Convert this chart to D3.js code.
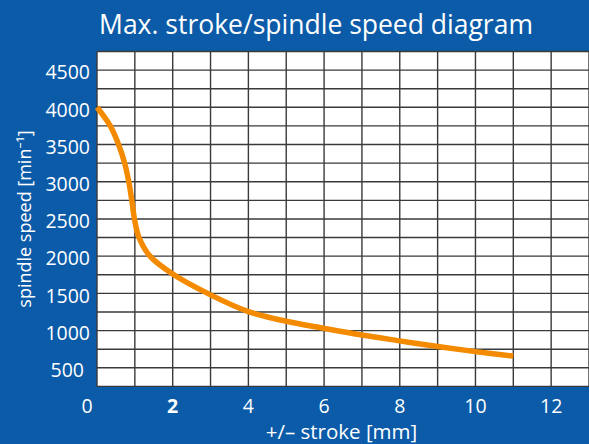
<!DOCTYPE html>
<html><head><meta charset="utf-8">
<script src="https://cdn.jsdelivr.net/npm/d3@7"></script>
<style>
html,body{margin:0;padding:0;background:#0B5BA8;}
svg{display:block;}
text{font-family:"Open Sans","Noto Sans",sans-serif;fill:#fff;}
</style></head>
<body>
<script>
const strokeMm = [0, 0.35, 0.57, 0.73, 0.84, 0.92, 0.99, 1.11, 1.4, 2.0, 3, 4, 5, 6, 7, 8, 9, 10, 11];
const speedMin = [4000, 3750, 3500, 3250, 3000, 2750, 2500, 2250, 2000, 1760, 1480, 1255, 1125, 1030, 940, 862, 785, 717, 658];
const xTicks = [0, 2, 4, 6, 8, 10, 12];
const yTicks = [500, 1000, 1500, 2000, 2500, 3000, 3500, 4000, 4500];
const title = "Max. stroke/spindle speed diagram";
const xTitle = "+/\u2013 stroke [mm]";
const yTitle = "spindle speed [min\u207B\u00B9]";

const W = 589, H = 444;
const svg = d3.select("body").append("svg").attr("width", W).attr("height", H);
svg.append("rect").attr("width", W).attr("height", H).attr("fill", "#0B5BA8");

const x = d3.scaleLinear().domain([0, 13]).range([97, 589]);
const y = d3.scaleLinear().domain([0, 4750]).range([405, 51.5]);

// plot area
svg.append("rect").attr("x", x(0)).attr("y", y(4750)).attr("width", x(13) - x(0)).attr("height", y(250) - y(4750)).attr("fill", "#fff");

const grid = svg.append("g").attr("stroke", "#3a3a3a").attr("stroke-width", 1.4);
grid.selectAll("line.v").data(d3.range(0, 14)).join("line")
  .attr("x1", d => x(d)).attr("x2", d => x(d)).attr("y1", y(4750)).attr("y2", y(250));
grid.selectAll("line.h").data(d3.range(250, 4751, 250)).join("line")
  .attr("y1", d => y(d)).attr("y2", d => y(d)).attr("x1", x(0)).attr("x2", x(13));

// curve
const line = d3.line().x((d, i) => x(strokeMm[i])).y(d => y(d)).curve(d3.curveCatmullRom.alpha(0.5));
svg.append("path").datum(speedMin).attr("d", line).attr("fill", "none")
  .attr("stroke", "#F38A00").attr("stroke-width", 5.5).attr("stroke-linecap", "butt");

// y tick labels
svg.selectAll("text.yt").data(yTicks).join("text").attr("class", "yt")
  .attr("x", d => d === 500 ? 84 : 90).attr("y", d => y(d) + 9.3)
  .attr("text-anchor", "end").attr("font-size", 19.5)
  .text(d => d);

// x tick labels
svg.selectAll("text.xt").data(xTicks).join("text").attr("class", "xt")
  .attr("x", d => d === 0 ? 87 : x(d)).attr("y", 413)
  .attr("text-anchor", "middle").attr("font-size", 19.5)
  .attr("font-weight", d => d === 2 ? "bold" : "normal")
  .text(d => d);

// titles
svg.append("text").attr("x", 316).attr("y", 34).attr("text-anchor", "middle")
  .attr("font-size", 26.5).text(title);
svg.append("text").attr("x", 341.5).attr("y", 439).attr("text-anchor", "middle")
  .attr("font-size", 20.5).text(xTitle);
svg.append("text").attr("transform", "translate(31,219) rotate(-90)")
  .attr("text-anchor", "middle").attr("font-size", 18).text(yTitle);
</script>
</body></html>
